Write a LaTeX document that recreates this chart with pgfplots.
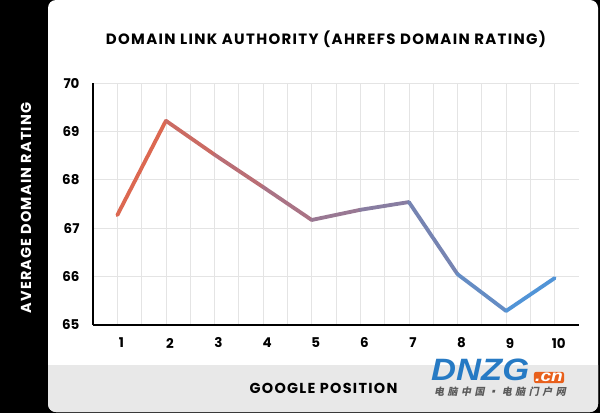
\documentclass[border=0pt]{standalone}
\usepackage{fontspec}
\setmainfont{Poppins}
\newfontfamily\cjk{Noto Sans CJK SC}[FakeSlant=0.2]
\newfontfamily\logo{Liberation Sans}
\usepackage{pgfplots}
\pgfplotsset{compat=1.18}

\definecolor{footer}{RGB}{232,232,232}
\definecolor{gridgray}{RGB}{228,228,228}
\definecolor{dnzgblue}{RGB}{38,122,196}
\definecolor{dnzgorange}{RGB}{232,96,28}
\definecolor{cjkgray}{RGB}{90,90,90}

\begin{document}
\begin{tikzpicture}[x=1bp,y=1bp]
\useasboundingbox (0,0) rectangle (600,413);
\fill[black] (0,0) rectangle (600,413);
\begin{scope}
  \clip[rounded corners=8bp] (48,1) rectangle (598,413);
  \fill[white] (48,0) rectangle (600,413);
  \fill[footer] (48,0) rectangle (600,48);
\end{scope}

% titles
\node[font=\bfseries\fontsize{15}{15}\selectfont] at (326,373.5)
  {\addfontfeature{LetterSpace=9}DOMAIN LINK AUTHORITY (AHREFS DOMAIN RATING)};
\node[rotate=90, text=white, font=\bfseries\fontsize{14.5}{14.5}\selectfont] at (26,205)
  {\addfontfeature{LetterSpace=8}AVERAGE DOMAIN RATING};
\node[font=\bfseries\fontsize{14.5}{14.5}\selectfont] at (323.5,25)
  {\addfontfeature{LetterSpace=9}GOOGLE POSITION};

\begin{axis}[
    at={(93bp,88bp)}, anchor=south west,
    scale only axis, width=486bp, height=242bp,
    xmin=0.5, xmax=10.5, ymin=65, ymax=70,
    axis lines=left,
    axis line style={-, line width=2.8bp, black},
    xtick={1,...,10}, ytick={65,...,70},
    minor x tick num=1,
    xmajorgrids, xminorgrids, ymajorgrids,
    grid style={gridgray, line width=0.8bp},
    minor grid style={gridgray, line width=0.8bp},
    major tick length=0pt, minor tick length=0pt,
    tick label style={font=\bfseries\fontsize{13.5}{13.5}\selectfont},
    /pgf/number format/assume math mode=true,
    xticklabel style={anchor=center, yshift=-18bp, xshift=4bp},
    yticklabel style={anchor=east, xshift=-10bp},
    colormap={ahrefs}{rgb255=(228,102,72) rgb255=(178,112,126) rgb255=(128,128,168) rgb255=(72,152,224)},
    point meta min=1, point meta max=10,
  ]
  \addplot[mesh, point meta=x, line width=3.8bp, line cap=round, line join=round]
    coordinates {
      (1,67.27) (2,69.22) (3,68.52) (4,67.85) (5,67.17)
      (6,67.38) (7,67.54) (8,66.05) (9,65.29) (10,65.97)
    };
\end{axis}

% watermark
\node[anchor=west, text=dnzgblue, font=\logo\bfseries\itshape\fontsize{31}{31}\selectfont, inner sep=0pt] at (431,43) {\scalebox{1.12}[1]{DNZG}};
\node[fill=dnzgorange, text=white, rounded corners=2bp, inner sep=1.2bp,
      font=\logo\bfseries\itshape\fontsize{16}{16}\selectfont] at (549,35.5) {\scalebox{1.2}[1]{.cn}};
\node[text=cjkgray, font=\cjk\bfseries\fontsize{10}{10}\selectfont] at (500,21)
  {\addfontfeature{LetterSpace=36}电脑中国▪电脑门户网};
\end{tikzpicture}
\end{document}
